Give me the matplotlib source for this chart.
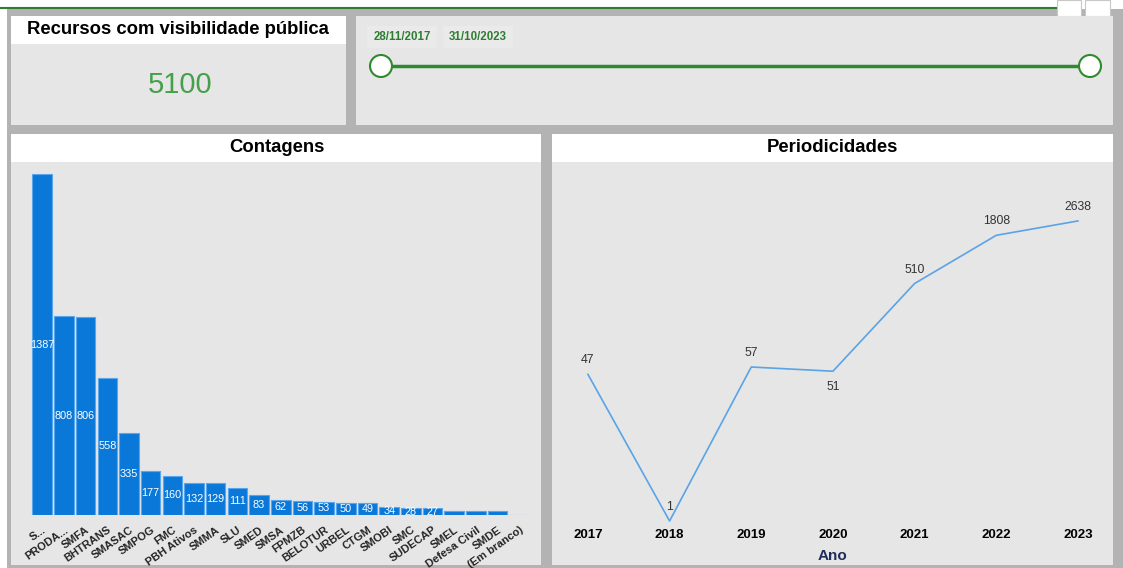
import matplotlib
matplotlib.use("Agg")
import matplotlib.pyplot as plt
from matplotlib.patches import Rectangle, Circle

plt.rcParams['font.family'] = ['Liberation Sans', 'DejaVu Sans']

# dados
total_recursos = 5100
data_inicio = "28/11/2017"
data_fim = "31/10/2023"

orgaos = ["S...", "PRODA...", "SMFA", "BHTRANS", "SMASAC", "SMPOG", "FMC",
          "PBH Ativos", "SMMA", "SLU", "SMED", "SMSA", "FPMZB", "BELOTUR",
          "URBEL", "CTGM", "SMOBI", "SMC", "SUDECAP", "SMEL", "Defesa Civil",
          "SMDE", "(Em branco)"]
contagens = [1387, 808, 806, 558, 335, 177, 160, 132, 129, 111, 83, 62, 56,
             53, 50, 49, 34, 28, 27, 18, 18, 17, 2]

anos = [2017, 2018, 2019, 2020, 2021, 2022, 2023]
periodicidades = [47, 1, 57, 51, 510, 1808, 2638]

W, H = 1123, 568
fig = plt.figure(figsize=(W / 100, H / 100), dpi=100)
fig.patch.set_facecolor("white")

# fundo em coordenadas de pixel
bg = fig.add_axes([0, 0, 1, 1])
bg.set_xlim(0, W)
bg.set_ylim(H, 0)
bg.axis("off")

GRAY = "#b3b3b3"
PANEL = "#e6e6e6"
GREEN = "#2e7d32"

bg.add_patch(Rectangle((7, 9), W - 7, H - 9, color=GRAY, lw=0))
bg.plot([0, 1057], [8, 8], color=GREEN, lw=1.5, solid_capstyle="butt")
bg.add_patch(Rectangle((1057, 0), 24, 16, facecolor="white", edgecolor="#c8c8c8", lw=0.8))
bg.add_patch(Rectangle((1085, 0), 25, 16, facecolor="white", edgecolor="#c8c8c8", lw=0.8))

def painel(x0, y0, x1, y1, titulo_h=0):
    bg.add_patch(Rectangle((x0, y0), x1 - x0, y1 - y0, color=PANEL, lw=0))
    if titulo_h:
        bg.add_patch(Rectangle((x0, y0), x1 - x0, titulo_h, color="white", lw=0))

painel(11, 16, 346, 125, 28)
painel(356, 16, 1113, 125)
painel(11, 134, 541, 565, 28)
painel(552, 134, 1113, 565, 28)

bg.text(178, 30, "Recursos com visibilidade pública", ha="center", va="center",
        fontsize=13.3, fontweight="bold", color="black")
bg.text(180, 85, str(total_recursos), ha="center", va="center",
        fontsize=21, color="#45a04a")
bg.text(277, 148, "Contagens", ha="center", va="center",
        fontsize=13.3, fontweight="bold", color="black")
bg.text(832, 147, "Periodicidades", ha="center", va="center",
        fontsize=13.3, fontweight="bold", color="black")

# slider de datas
bg.add_patch(Rectangle((367, 26), 70, 22, color="#eaeaea", lw=0))
bg.add_patch(Rectangle((443, 26), 70, 22, color="#eaeaea", lw=0))
bg.text(402, 37, data_inicio, ha="center", va="center", fontsize=8.3,
        fontweight="bold", color=GREEN)
bg.text(478, 37, data_fim, ha="center", va="center", fontsize=8.3,
        fontweight="bold", color=GREEN)
bg.plot([381, 1090], [66, 66], color="#2f8a2f", lw=2.5)
for cx in (381, 1090):
    bg.add_patch(Circle((cx, 66), 11, facecolor="white", edgecolor="#2f8a2f", lw=1.5, zorder=3))


def px_axes(x0, y0, x1, y1):
    return fig.add_axes([x0 / W, 1 - y1 / H, (x1 - x0) / W, (y1 - y0) / H])


# Contagens
ax1 = px_axes(11, 162, 541, 515)
ax1.patch.set_alpha(0)
pos = list(range(len(orgaos)))
ax1.bar(pos, contagens, width=0.9, color="#0a78d8", edgecolor="#5aa6ec", linewidth=0.8)
for p, v in zip(pos, contagens):
    if v >= 20:
        ax1.text(p, v / 2, str(v), ha="center", va="center", color="white", fontsize=7.8)
ax1.set_xlim(-1.44, 23.0)
ax1.set_ylim(0, 1436)
ax1.set_yticks([])
ax1.set_xticks(pos)
ax1.set_xticklabels(orgaos, rotation=35, ha="right", rotation_mode="anchor",
                    fontsize=8, fontweight="bold", color="#252423")
ax1.tick_params(axis="x", length=0, pad=7)
for s in ax1.spines.values():
    s.set_visible(False)

# Periodicidades
ax2 = px_axes(552, 162, 1113, 525)
ax2.patch.set_alpha(0)
ax2.plot(anos, periodicidades, color="#5aa3e6", lw=1.2)
ax2.set_yscale("log")
ax2.set_ylim(0.9, 12400)
ax2.set_xlim(2016.56, 2023.43)
ax2.set_yticks([])
ax2.minorticks_off()
ax2.set_yticks([], minor=True)
ax2.set_xticks(anos)
ax2.set_xticklabels([str(a) for a in anos], fontsize=9.5, fontweight="bold", color="black")
ax2.tick_params(axis="x", length=0, pad=3)
ax2.set_xlabel("Ano", fontsize=11, fontweight="bold", color="#1f2d5a", labelpad=6)
for s in ax2.spines.values():
    s.set_visible(False)
for a, v in zip(anos, periodicidades):
    dy = -11 if v == 51 else 10
    ax2.annotate(str(v), (a, v), xytext=(0, dy), textcoords="offset points",
                 ha="center", va="center", fontsize=8.8, color="#333333")

fig.savefig("out.png", dpi=100)
